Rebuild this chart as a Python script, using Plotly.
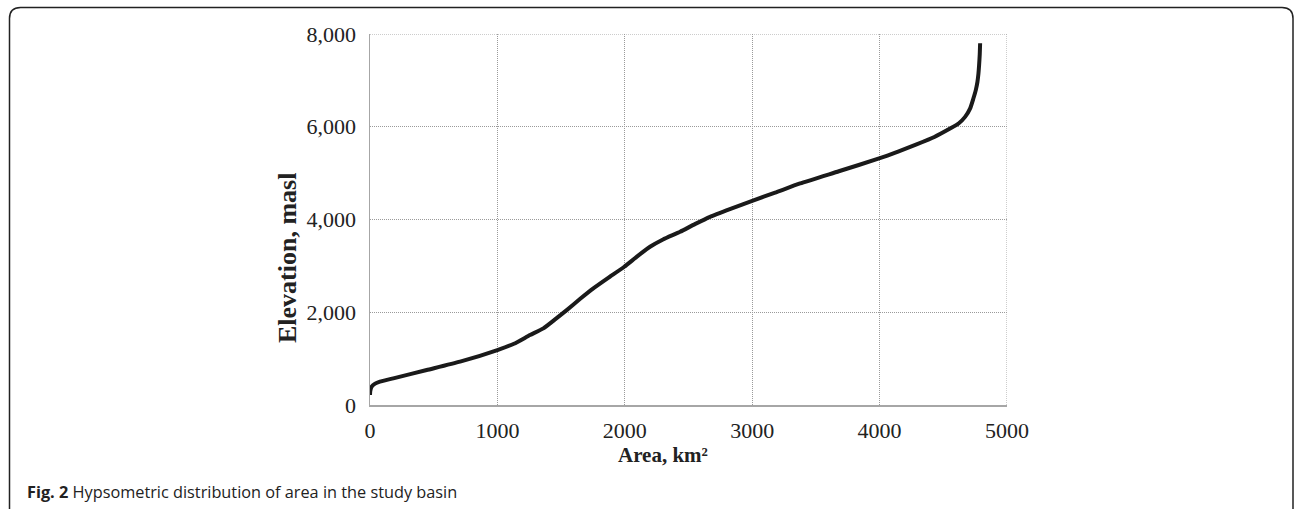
import plotly.graph_objects as go

# Data
area_km2 = [0, 2, 13, 40, 78, 183, 445, 707, 1000, 1130, 1256, 1361, 1450, 1544, 1650, 1753,
            1880, 1996, 2100, 2198, 2300, 2434, 2550, 2669, 2830, 3000, 3180, 3376, 3680,
            3996, 4150, 4290, 4430, 4553, 4620, 4671, 4710, 4736, 4755, 4768, 4776, 4781, 4786, 4789]
elevation_masl = [215, 300, 395, 460, 503, 575, 754, 934, 1185, 1320, 1508, 1652, 1840, 2047, 2290, 2514,
                  2760, 2981, 3210, 3412, 3570, 3735, 3900, 4058, 4230, 4403, 4580, 4777, 5040,
                  5316, 5470, 5620, 5780, 5962, 6070, 6213, 6390, 6609, 6790, 6968, 7150, 7327, 7560, 7800]
x_ticks = [0, 1000, 2000, 3000, 4000, 5000]
y_ticks = [0, 2000, 4000, 6000, 8000]

W, H = 1295, 509
L, R, T, B = 370, 1007, 34, 405  # plot area in page pixels

def px(xp):
    return (xp - L) / (R - L)

def py(yp):
    return (B - yp) / (B - T)

fig = go.Figure()
fig.add_trace(go.Scatter(
    x=area_km2, y=elevation_masl, mode="lines",
    line=dict(color="#1a1a1a", width=4, shape="spline", smoothing=0.5),
    showlegend=False, hoverinfo="skip"
))

serif = "Liberation Serif"
grid = "#9a9a9a"
gdash = "1px,1px"
fig.update_layout(
    width=W, height=H,
    margin=dict(l=L, r=W - R, t=T, b=H - B, pad=0),
    paper_bgcolor="white", plot_bgcolor="white",
    font=dict(family=serif, color="#222222", size=22),
    xaxis=dict(
        range=[0, 5000], tickvals=x_ticks, tickformat="d",
        showgrid=True, gridcolor=grid, gridwidth=1, griddash=gdash,
        showline=True, linecolor="#a6a6a6", linewidth=1.5,
        zeroline=False, ticks="", ticklabelstandoff=5,
        tickfont=dict(family=serif, size=22, color="#222222"),
    ),
    yaxis=dict(
        range=[0, 8000], tickvals=y_ticks, tickformat=",d",
        showgrid=True, gridcolor=grid, gridwidth=1, griddash=gdash,
        showline=True, linecolor="#a6a6a6", linewidth=1.5,
        zeroline=False, ticks="", ticklabelstandoff=8,
        tickfont=dict(family=serif, size=22, color="#222222"),
    ),
)

# Grid lines at the far edges (top and right)
fig.add_shape(type="line", xref="x", yref="paper", x0=x_ticks[-1], x1=x_ticks[-1], y0=0, y1=1,
              line=dict(color=grid, width=1, dash=gdash), layer="below")
fig.add_shape(type="line", xref="paper", yref="y", x0=0, x1=1, y0=y_ticks[-1], y1=y_ticks[-1],
              line=dict(color=grid, width=1, dash=gdash), layer="below")

# Axis titles
fig.add_annotation(
    x=px(663), y=py(455), xref="paper", yref="paper",
    text="<b>Area, km²</b>", showarrow=False,
    font=dict(family=serif, size=21, color="#222222"),
    xanchor="center", yanchor="middle"
)
fig.add_annotation(
    x=px(287), y=py(258), xref="paper", yref="paper",
    text="<b>Elevation, masl</b>", showarrow=False, textangle=-90,
    font=dict(family=serif, size=26, color="#222222"),
    xanchor="center", yanchor="middle"
)

# Caption
fig.add_annotation(
    x=px(25), y=py(492), xref="paper", yref="paper",
    text="<b>Fig. 2</b> Hypsometric distribution of area in the study basin",
    showarrow=False, font=dict(family="Open Sans", size=16.3, color="#222222"),
    xanchor="left", yanchor="middle"
)

# Rounded frame (open at the bottom)
fl, ft, fr, fb, rad = 9.5, 7.5, 1293, 520, 11
path = (
    f"M {px(fl)},{py(fb)} L {px(fl)},{py(ft + rad)} "
    f"Q {px(fl)},{py(ft)} {px(fl + rad)},{py(ft)} "
    f"L {px(fr - rad)},{py(ft)} "
    f"Q {px(fr)},{py(ft)} {px(fr)},{py(ft + rad)} "
    f"L {px(fr)},{py(fb)}"
)
fig.add_shape(type="path", path=path, xref="paper", yref="paper",
              line=dict(color="#222222", width=1.5), layer="above")

fig.write_html(
    "out.html",
    config={"displayModeBar": False, "staticPlot": True},
    post_script="document.body.style.margin='0';document.body.style.overflow='hidden';",
)
